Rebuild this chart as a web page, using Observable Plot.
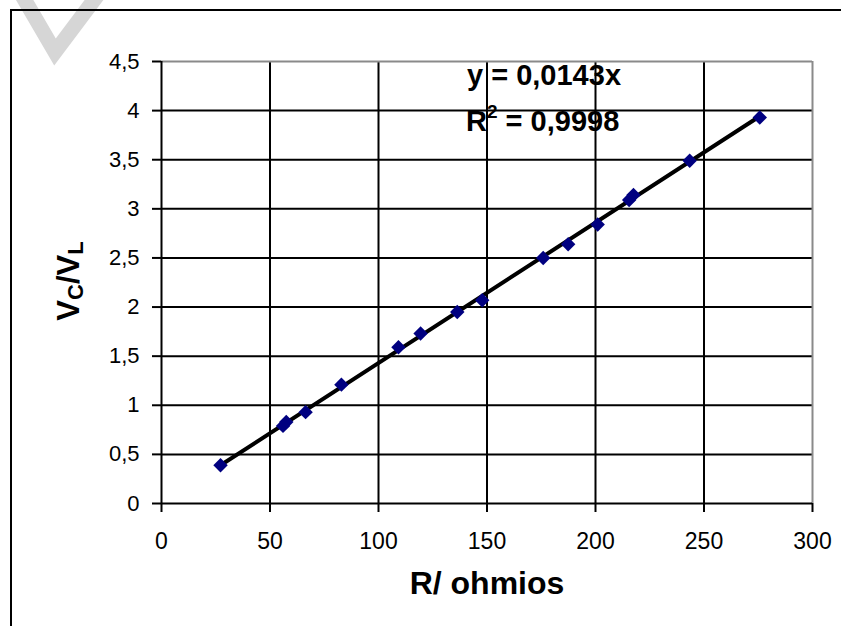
<!DOCTYPE html>
<html>
<head>
<meta charset="utf-8">
<script src="https://cdn.jsdelivr.net/npm/d3@7"></script>
<script src="https://cdn.jsdelivr.net/npm/@observablehq/plot@0.6"></script>
<style>
  html, body { margin: 0; padding: 0; background: #fff; }
  #wrap { position: relative; width: 841px; height: 626px; overflow: hidden; background: #fff; }
  #wrap svg.main { position: absolute; left: 0; top: 0; }
  #frame { position: absolute; left: 10px; top: 9px; width: 900px; height: 700px; border: 2px solid #000; pointer-events: none; }
  #wm { position: absolute; left: 0; top: 0; }
</style>
</head>
<body>
<div id="wrap">
  <svg id="wm" width="841" height="626"><polyline points="20,-8 55,52 100,-8" fill="none" stroke="#d6d6d6" stroke-width="15"/></svg>
  <div id="frame"></div>
</div>
<script>
// ---- data ----
const resistance = [27.2, 56.0, 57.5, 66.4, 82.9, 109.2, 119.4, 136.3, 147.8, 175.9, 187.4, 201.0, 215.5, 217.5, 243.4, 275.7];
const voltageRatio = [0.39, 0.79, 0.83, 0.93, 1.21, 1.59, 1.73, 1.95, 2.07, 2.50, 2.64, 2.84, 3.09, 3.14, 3.49, 3.93];
const xTicks = [0, 50, 100, 150, 200, 250, 300];
const yTicks = [0, 0.5, 1, 1.5, 2, 2.5, 3, 3.5, 4, 4.5];
const trendSlope = 0.0143;
const eqLabel = "y = 0,0143x";
const r2Label = "0,9998";
const xTitle = "R/ ohmios";

const points = resistance.map((r, i) => ({r, v: voltageRatio[i]}));
const xMin = d3.min(resistance), xMax = d3.max(resistance);
const trend = [xMin, xMax].map(r => ({r, v: trendSlope * r}));
const fmt = d => String(d).replace(".", ",");

const chart = Plot.plot({
  width: 841,
  height: 626,
  marginLeft: 161,
  marginRight: 29,
  marginTop: 61,
  marginBottom: 123,
  style: {fontFamily: "'Liberation Sans', Arial, sans-serif", background: "transparent", color: "#000"},
  x: {domain: [0, 300]},
  y: {domain: [0, 4.5]},
  marks: [
    Plot.ruleX(xTicks.slice(1, -1), {stroke: "#000", strokeWidth: 2}),
    Plot.ruleY(yTicks.slice(1, -1), {stroke: "#000", strokeWidth: 2}),
    Plot.ruleX([300], {stroke: "#8a8a8a", strokeWidth: 2}),
    Plot.ruleY([4.5], {stroke: "#8a8a8a", strokeWidth: 2}),
    Plot.ruleX([0], {stroke: "#000", strokeWidth: 2}),
    Plot.ruleY([0], {stroke: "#000", strokeWidth: 2}),
    Plot.axisX({ticks: xTicks, tickSize: 9, tickPadding: 20, tickFormat: fmt, fontSize: 23, label: null, strokeWidth: 2}),
    Plot.axisY({ticks: yTicks, tickSize: 9, tickPadding: 13, tickFormat: fmt, fontSize: 22, label: null, strokeWidth: 2}),
    Plot.line(trend, {x: "r", y: "v", stroke: "#000", strokeWidth: 4}),
    Plot.dot(points, {x: "r", y: "v", symbol: "diamond2", r: 6.5, fill: "#000080", stroke: "none"}),
    Plot.text([xTitle], {frameAnchor: "bottom", text: d => d, dy: 90, fontSize: 32, fontWeight: "bold"})
  ]
});
chart.classList.add("main");
document.getElementById("wrap").insertBefore(chart, document.getElementById("frame"));

const svg = d3.select(chart);
// y axis title with subscripts
const yt = svg.append("text")
  .attr("transform", "translate(79,281) rotate(-90)")
  .attr("text-anchor", "middle")
  .attr("font-family", "'Liberation Sans', Arial, sans-serif")
  .attr("font-weight", "bold")
  .attr("font-size", 31)
  .attr("fill", "#000");
yt.append("tspan").text("V");
yt.append("tspan").attr("font-size", 22).attr("dy", 4).text("C");
yt.append("tspan").attr("dy", -4).text("/V");
yt.append("tspan").attr("font-size", 22).attr("dy", 4).text("L");

// trendline equation annotation
const ann = svg.append("g")
  .attr("font-family", "'Liberation Sans', Arial, sans-serif")
  .attr("font-weight", "bold")
  .attr("font-size", 29)
  .attr("text-anchor", "start")
  .attr("fill", "#000");
ann.append("text").attr("x", 467).attr("y", 85).text(eqLabel);
const r2 = ann.append("text").attr("x", 466).attr("y", 131);
r2.append("tspan").text("R");
r2.append("tspan").attr("font-size", 19).attr("dy", -13).text("2");
r2.append("tspan").attr("dy", 13).text(" = " + r2Label);
</script>
</body>
</html>
